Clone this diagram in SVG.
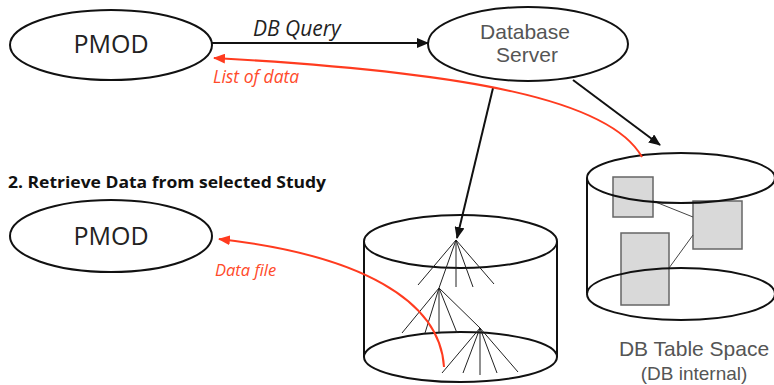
<svg xmlns="http://www.w3.org/2000/svg" width="774" height="385" viewBox="0 0 774 385">
<style>
.node{fill:#fff;stroke:#111;stroke-width:2}
.lbl{font-family:"Open Sans","Liberation Sans",sans-serif;fill:#222;text-anchor:middle}
.srv{font-family:"Liberation Sans","Open Sans",sans-serif;fill:#555;text-anchor:middle}
.red{font-family:"Open Sans","Liberation Sans",sans-serif;font-style:italic;fill:#ff4a2a}
.conn{fill:none;stroke:#111;stroke-width:2}
.rconn{fill:none;stroke:#ff3b1f;stroke-width:2}
.tree{stroke:#222;stroke-width:1}
.tbl{fill:#d9d9d9;stroke:#666;stroke-width:1.5}
.cyl{fill:none;stroke:#111;stroke-width:2}
</style>
<defs>
<marker id="ab" markerWidth="12" markerHeight="10" refX="11" refY="5" orient="auto" markerUnits="userSpaceOnUse"><path d="M0,0 L12,5 L0,10 Z" fill="#111"/></marker>
<marker id="ar" markerWidth="12" markerHeight="10" refX="11" refY="5" orient="auto" markerUnits="userSpaceOnUse"><path d="M0,0 L12,5 L0,10 Z" fill="#ff3b1f"/></marker>
</defs>
<rect width="774" height="385" fill="#fff"/>

<g id="pmod1">
<ellipse class="node" cx="111" cy="45" rx="101" ry="35"/>
<text class="lbl" x="111" y="53" font-size="25">PMOD</text>
</g>

<g id="dbserver">
<ellipse class="node" cx="528" cy="44" rx="100" ry="37"/>
<text class="srv" x="525" y="39" font-size="21">Database</text>
<text class="srv" x="527" y="62" font-size="21">Server</text>
</g>

<text x="8" y="188" font-family="'Open Sans','Liberation Sans',sans-serif" font-weight="bold" font-size="16" fill="#111" textLength="318" lengthAdjust="spacingAndGlyphs">2. Retrieve Data from selected Study</text>

<g id="pmod2">
<ellipse class="node" cx="111" cy="236" rx="101" ry="36"/>
<text class="lbl" x="111" y="245" font-size="25">PMOD</text>
</g>

<g id="treestore">
<path class="cyl" d="M364,241 L364,357 M557,241 L557,357"/>
<ellipse class="cyl" cx="460.5" cy="241.5" rx="96.5" ry="26.5"/>
<ellipse class="cyl" cx="460.5" cy="357" rx="96.5" ry="25"/>
<g class="tree">
<line x1="456" y1="240" x2="418" y2="285"/>
<line x1="456" y1="240" x2="439" y2="288"/>
<line x1="456" y1="240" x2="456" y2="287"/>
<line x1="456" y1="240" x2="473" y2="287"/>
<line x1="456" y1="240" x2="494" y2="284"/>
<line x1="439" y1="288" x2="402" y2="333"/>
<line x1="439" y1="288" x2="425" y2="333"/>
<line x1="439" y1="288" x2="439" y2="333"/>
<line x1="439" y1="288" x2="457" y2="333"/>
<line x1="439" y1="288" x2="480" y2="328"/>
<line x1="480" y1="328" x2="442" y2="373"/>
<line x1="480" y1="328" x2="463" y2="373"/>
<line x1="480" y1="328" x2="480" y2="375"/>
<line x1="480" y1="328" x2="497" y2="373"/>
<line x1="480" y1="328" x2="518" y2="372"/>
</g>
</g>

<g id="tablespace">
<rect class="tbl" x="613" y="177" width="40" height="40"/>
<rect class="tbl" x="693" y="201" width="49" height="48"/>
<rect class="tbl" x="621" y="233" width="48" height="72"/>
<line x1="653" y1="201" x2="693" y2="217" stroke="#444" stroke-width="1"/>
<line x1="669" y1="268" x2="693" y2="235" stroke="#444" stroke-width="1"/>
<path class="cyl" d="M587,178 L587,293"/>
<ellipse class="cyl" cx="681" cy="178" rx="94" ry="25"/>
<ellipse class="cyl" cx="681" cy="294" rx="94" ry="26"/>
<text class="srv" x="694" y="356" font-size="21">DB Table Space</text>
<text class="srv" x="694" y="380" font-size="19">(DB internal)</text>
</g>

<g id="connectors">
<line class="conn" x1="212" y1="43" x2="428" y2="43" marker-end="url(#ab)"/>
<text x="253" y="36" font-family="'Open Sans','Liberation Sans',sans-serif" font-style="italic" font-size="21" fill="#222">DB Query</text>
<line class="conn" x1="573" y1="80" x2="660" y2="145" marker-end="url(#ab)"/>
<line class="conn" x1="493" y1="88" x2="457" y2="238" marker-end="url(#ab)"/>
<path class="rconn" d="M642,157 C610,100 470,72 214,58" marker-end="url(#ar)"/>
<text class="red" x="213" y="83" font-size="17.5">List of data</text>
<path class="rconn" d="M444,367 C440,300 360,255 219,239" marker-end="url(#ar)"/>
<text class="red" x="215" y="276" font-size="16.5">Data file</text>
</g>
</svg>
